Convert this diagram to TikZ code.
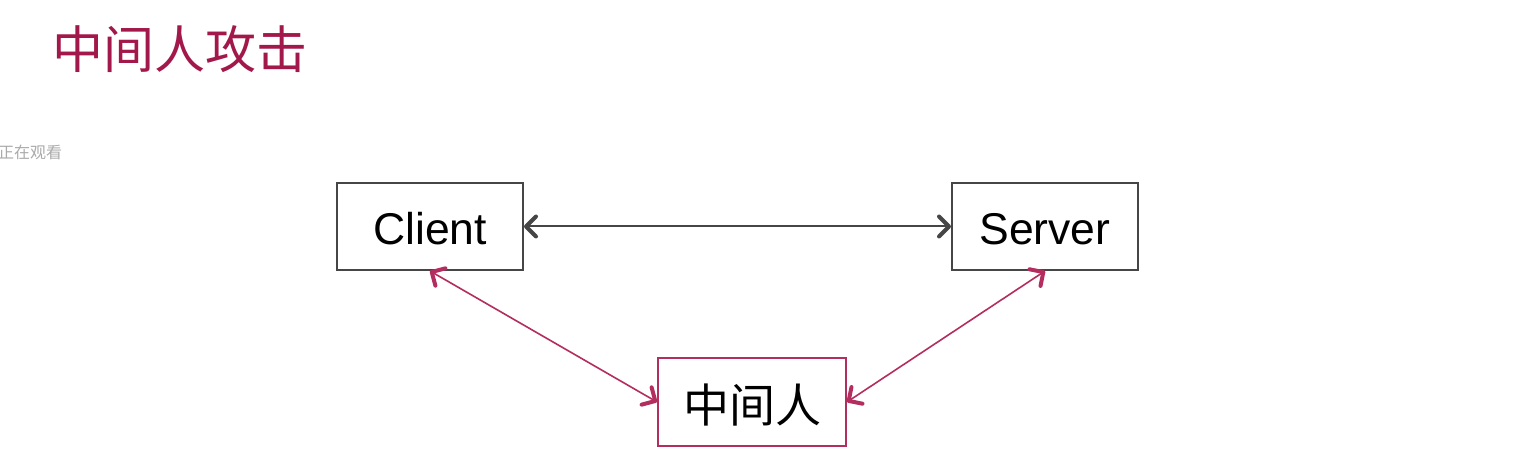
\documentclass[tikz,border=0pt]{standalone}
\usepackage{fontspec}
\setmainfont{Liberation Sans}
\newfontfamily\cjk{Noto Sans CJK SC}
\usetikzlibrary{arrows.meta}
\definecolor{titlered}{RGB}{163,24,74}
\definecolor{linkpink}{RGB}{180,45,95}
\definecolor{boxgray}{RGB}{70,70,70}
\definecolor{watergray}{RGB}{170,170,170}
\tikzset{
  barb/.tip={Straight Barb[length=10pt,width=20pt,line width=4pt,round]},
  plainbox/.style={draw=boxgray, line width=2pt, fill=white, minimum width=186pt, minimum height=87pt, inner sep=0pt, text height=37pt, text depth=0pt, font=\fontsize{44.5}{48}\selectfont},
  pinkbox/.style={draw=linkpink, line width=2pt, fill=white, minimum width=188pt, minimum height=88pt, inner sep=0pt, text height=41pt, text depth=0pt, font=\cjk\fontsize{46}{50}\selectfont},
  grayarrow/.style={draw=boxgray, line width=2pt, barb-barb},
  pinkarrow/.style={draw=linkpink, line width=1.6pt, barb-barb},
}
\begin{document}
\begin{tikzpicture}[x=1pt,y=-1pt]
\fill[white] (0,0) rectangle (1532,470);
\useasboundingbox (0,0) rectangle (1532,470);
\node[anchor=west, text=titlered, font=\cjk\fontsize{51}{55}\selectfont, inner sep=0pt] (title) at (52,49) {中间人攻击};
\node[anchor=west, text=watergray, font=\cjk\fontsize{16}{18}\selectfont, inner sep=0pt] (watch) at (-2,152) {正在观看};
\node[plainbox] (client) at (430,226.5) {Client};
\node[plainbox] (server) at (1045,226.5) {Server};
\node[pinkbox] (mitm) at (752,402) {中间人};
\draw[grayarrow] (client.east) -- (server.west);
\draw[pinkarrow] (client.south) -- (mitm.west);
\draw[pinkarrow] (server.south) -- (mitm.east);
\end{tikzpicture}
\end{document}
